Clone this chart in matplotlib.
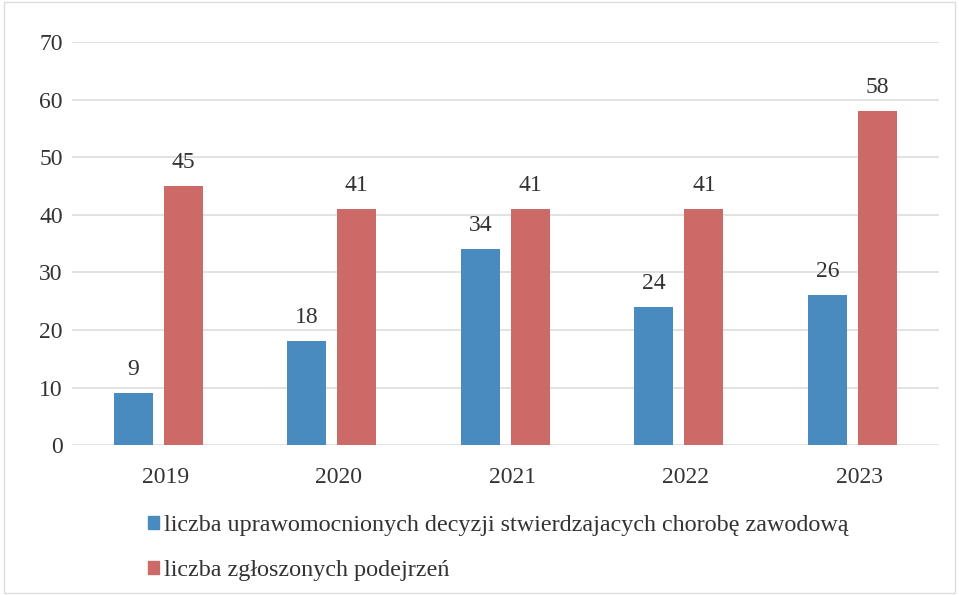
import matplotlib
matplotlib.use("Agg")
import matplotlib.pyplot as plt
import numpy as np
from matplotlib.patches import Rectangle

years = ["2019", "2020", "2021", "2022", "2023"]
decisions = [9, 18, 34, 24, 26]
suspicions = [45, 41, 41, 41, 58]
labels = ["liczba uprawomocnionych decyzji stwierdzajacych chorobę zawodową",
          "liczba zgłoszonych podejrzeń"]
yticks = [0, 10, 20, 30, 40, 50, 60, 70]
ytick_labels = ["0", "10", "20", "30", "40", "50", "60", "70"]

blue = "#4a8bbf"
red = "#cc6a67"
txt = "#333333"
serif = "Liberation Serif"

fig = plt.figure(figsize=(9.59, 5.95), dpi=100)
ax = fig.add_axes([0.0755, 0.252, 0.904, 0.677])

x = np.arange(len(years))
w = 0.225
off = 0.144
ax.bar(x - off, decisions, w, color=blue, zorder=3)
ax.bar(x + off, suspicions, w, color=red, zorder=3)

for xi, v in zip(x, decisions):
    ax.text(xi - off, v + 2.3, str(v), ha="center", va="bottom",
            fontsize=17, color=txt, family=serif)
for xi, v in zip(x, suspicions):
    ax.text(xi + off, v + 2.3, str(v), ha="center", va="bottom",
            fontsize=17, color=txt, family=serif)

ax.set_ylim(0, 70)
ax.set_xlim(-0.494, 4.5)
ax.set_yticks(yticks)
ax.set_yticklabels(ytick_labels, family=serif, fontsize=17, color=txt)
ax.set_xticks(x + 0.04)
ax.set_xticklabels(years, family=serif, fontsize=17, color=txt)
ax.tick_params(length=0)
ax.tick_params(axis="y", pad=7)
ax.tick_params(axis="x", pad=16)
for s in ax.spines.values():
    s.set_visible(False)
ax.grid(axis="y", color="#dddddd", linewidth=1.2, zorder=0)
ax.set_axisbelow(True)

handles = [Rectangle((0, 0), 1, 1, color=blue), Rectangle((0, 0), 1, 1, color=red)]
leg = fig.legend(handles, labels, loc="upper left", bbox_to_anchor=(0.134, 0.167),
                 frameon=False, ncol=1, handlelength=0.45, handleheight=0.45,
                 handletextpad=0.2, labelspacing=1.0, borderpad=0.3,
                 prop={"family": serif, "size": 17.4})
for t in leg.get_texts():
    t.set_color(txt)

fig.patches.append(Rectangle((0.004, 0.004), 0.992, 0.992, transform=fig.transFigure,
                             fill=False, edgecolor="#dddddd", linewidth=1))

fig.savefig("out.png", dpi=100, facecolor="white")
